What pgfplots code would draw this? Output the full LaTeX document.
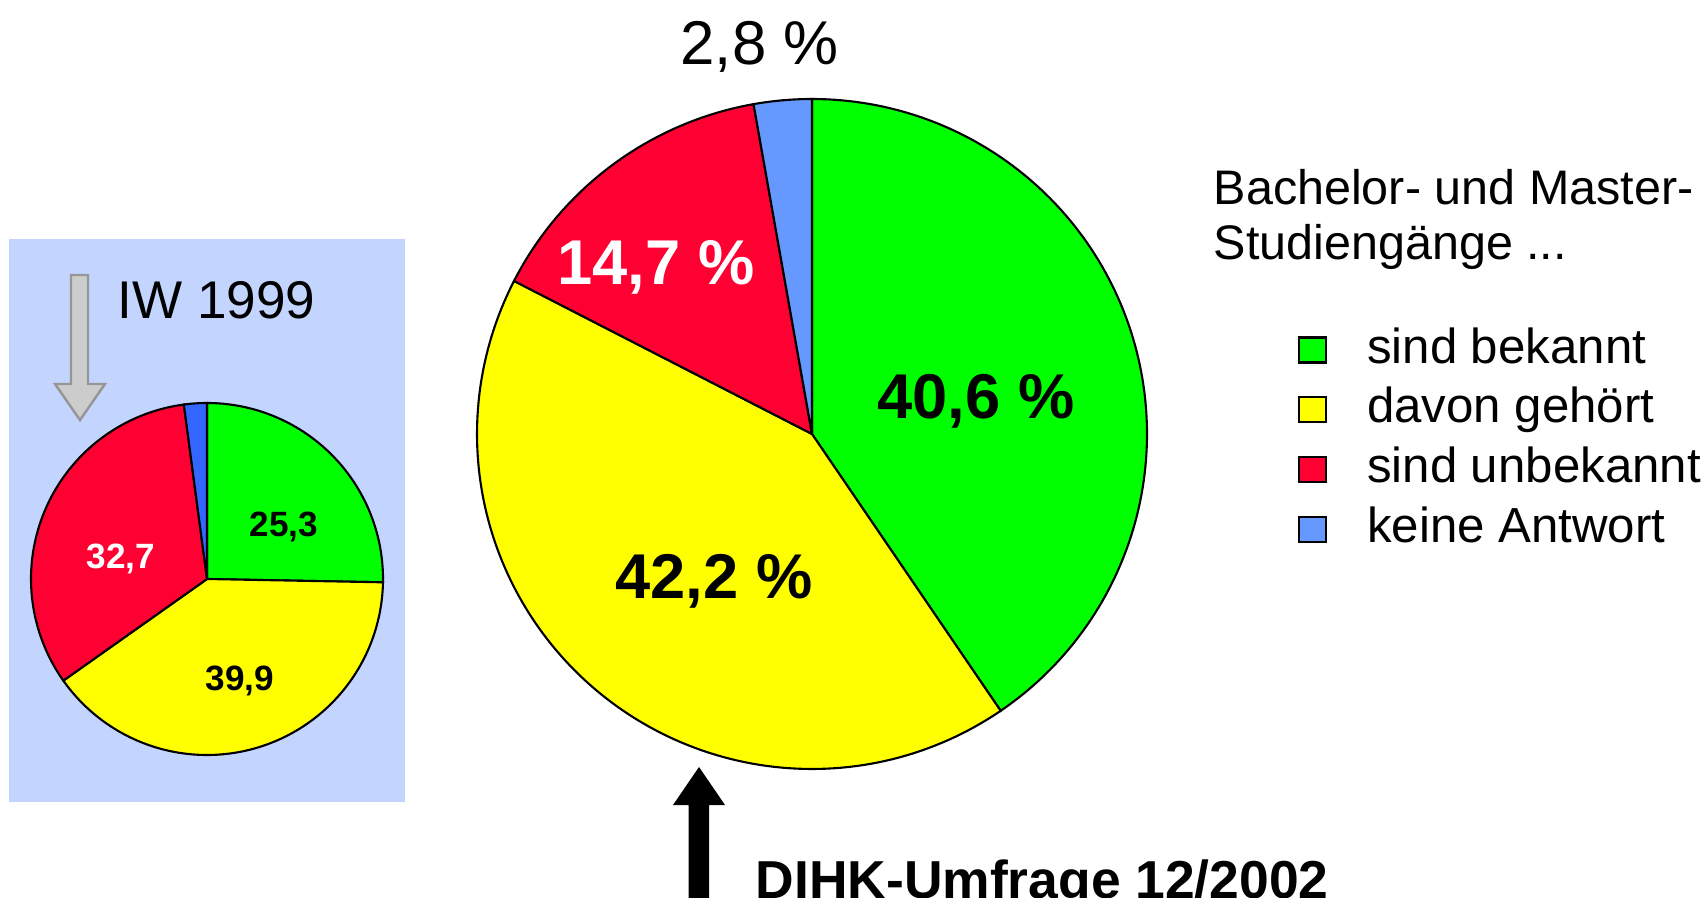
\documentclass[border=0pt]{standalone}
\usepackage{fontspec}
\setmainfont{Liberation Sans}
\usepackage{pgfplots}
\pgfplotsset{compat=1.18}

\definecolor{pgreen}{RGB}{0,255,0}
\definecolor{pyellow}{RGB}{255,255,0}
\definecolor{pred}{RGB}{255,0,51}
\definecolor{pblue}{RGB}{102,153,255}
\definecolor{pbluedark}{RGB}{51,102,255}
\definecolor{boxcol}{RGB}{195,213,255}
\definecolor{arrowgray}{RGB}{204,204,204}
\definecolor{arrowedge}{RGB}{150,150,150}

\newcommand\cum{0}
% #1 cx, #2 cy, #3 radius, #4 value, #5 total, #6 colour, #7 extra options
\newcommand{\pieslice}[7]{%
  \pgfmathsetmacro\angA{90-360*(\cum/#5)}%
  \pgfmathsetmacro\newcum{\cum+#4}%
  \xdef\cum{\newcum}%
  \pgfmathsetmacro\angB{90-360*(\cum/#5)}%
  \edef\doslice{\noexpand\addplot[draw=black, line width=0.6pt, fill=#6, domain=\angB:\angA, samples=120, #7]
    ({#1+#3*cos(x)},{#2+#3*sin(x)}) -- (axis cs:#1,#2) -- cycle;}%
  \doslice
}

\begin{document}
\begin{tikzpicture}
% background panel of the 1999 survey
\fill[boxcol] (0.09,0.95) rectangle (4.05,6.58);
% grey arrow
\filldraw[fill=arrowgray, draw=arrowedge, line width=0.7pt]
  (0.71,6.22) -- (0.88,6.22) -- (0.88,5.13) -- (1.05,5.13) -- (0.80,4.77) -- (0.55,5.13) -- (0.71,5.13) -- cycle;
% black arrow
\fill[black] (6.885,-0.2) -- (7.09,-0.2) -- (7.09,0.92) -- (7.25,0.92) -- (6.99,1.30) -- (6.73,0.92) -- (6.885,0.92) -- cycle;

\begin{axis}[
  at={(0,0)}, anchor=south west,
  width=17.06cm, height=8.97cm, scale only axis,
  xmin=0, xmax=1706, ymin=0, ymax=897,
  hide axis, clip=false,
  legend image code/.code={\draw[#1, line width=0.6pt] (0cm,-0.125cm) rectangle (0.27cm,0.125cm);},
  legend cell align=left,
  legend style={at={(axis cs:1298,569)}, anchor=north west, draw=none, fill=none,
    inner sep=0pt, outer sep=0pt, row sep=0.159cm, column sep=0.40cm,
    font=\fontsize{14}{17}\selectfont,
    nodes={inner sep=0pt, text height=10pt, text depth=2.5pt}},
]
% IW 1999
\gdef\cum{0}
\pieslice{207}{318}{176}{25.3}{100}{pgreen}{forget plot}
\pieslice{207}{318}{176}{39.9}{100}{pyellow}{forget plot}
\pieslice{207}{318}{176}{32.7}{100}{pred}{forget plot}
\pieslice{207}{318}{176}{2.1}{100}{pbluedark}{forget plot}
% DIHK 12/2002
\gdef\cum{0}
\pieslice{812}{463}{335}{40.6}{100.3}{pgreen}{}
\addlegendentry{sind bekannt}
\pieslice{812}{463}{335}{42.2}{100.3}{pyellow}{}
\addlegendentry{davon gehört}
\pieslice{812}{463}{335}{14.7}{100.3}{pred}{}
\addlegendentry{sind unbekannt}
\pieslice{812}{463}{335}{2.8}{100.3}{pblue}{}
\addlegendentry{keine Antwort}

% labels big pie
\node[anchor=base, font=\fontsize{18}{20}\selectfont\bfseries, text=white] at (axis cs:656,612) {14,7 \%};
\node[anchor=base, font=\fontsize{18}{20}\selectfont\bfseries] at (axis cs:976,478) {40,6 \%};
\node[anchor=base, font=\fontsize{18}{20}\selectfont\bfseries] at (axis cs:714,299) {42,2 \%};
\node[anchor=base, font=\fontsize{17.6}{20}\selectfont] at (axis cs:759.5,832) {2,8 \%};
% labels small pie
\node[anchor=base, font=\fontsize{10}{12}\selectfont\bfseries] at (axis cs:284,361) {25,3};
\node[anchor=base, font=\fontsize{10}{12}\selectfont\bfseries, text=white] at (axis cs:121,329) {32,7};
\node[anchor=base, font=\fontsize{10}{12}\selectfont\bfseries] at (axis cs:240,207) {39,9};
% titles
\node[anchor=base west, inner sep=0pt, font=\fontsize{15.1}{18}\selectfont] at (axis cs:117,578) {IW 1999};
\node[anchor=base west, inner sep=0pt, font=\fontsize{15.2}{18}\selectfont\bfseries] at (axis cs:755,-1) {DIHK-Umfrage 12/2002};
\node[anchor=base west, inner sep=0pt, font=\fontsize{13.8}{17}\selectfont] at (axis cs:1213,692) {Bachelor- und Master-};
\node[anchor=base west, inner sep=0pt, font=\fontsize{13.8}{17}\selectfont] at (axis cs:1213,637) {Studiengänge ...};
\end{axis}
\pgfresetboundingbox
\useasboundingbox (0,0) rectangle (17.06,8.97);
\end{tikzpicture}
\end{document}
